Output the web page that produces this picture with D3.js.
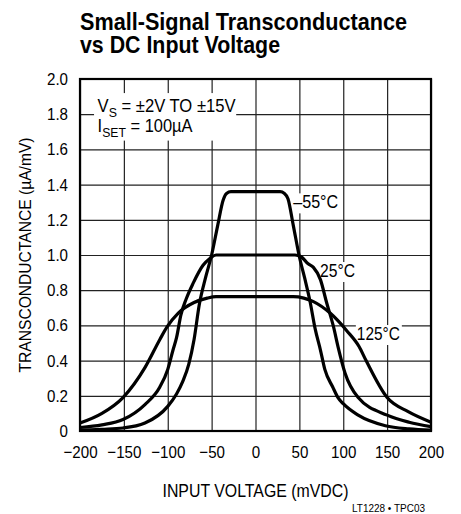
<!DOCTYPE html>
<html>
<head>
<meta charset="utf-8">
<script src="https://cdn.jsdelivr.net/npm/d3@7"></script>
<style>
  body { margin: 0; background: #fff; }
  svg { display: block; }
  text { font-family: "Liberation Sans Narrow", "Arial Narrow", "Liberation Sans", sans-serif; fill: #000; }
</style>
</head>
<body>
<div id="chart"></div>
<script>
// input voltage (mV) -> transconductance (uA/mV)
const vM55 = [-200, -175, -151, -126, -100, -90, -83, -76, -70, -64, -57, -50, -43, -37, -33, -28, 28, 33, 37, 43, 50, 56, 62, 68, 74, 79, 88, 94, 100, 117, 148, 175, 200]
const gM55 = [0.005, 0.01, 0.017, 0.045, 0.14, 0.21, 0.28, 0.38, 0.52, 0.72, 0.87, 1.0, 1.17, 1.31, 1.35, 1.36, 1.36, 1.35, 1.32, 1.17, 0.99, 0.87, 0.74, 0.58, 0.46, 0.35, 0.25, 0.19, 0.155, 0.09, 0.03, 0.012, 0.005]

const v25 = [-200, -175, -151, -126, -109, -100, -94, -90, -85, -79, -71, -60, -52, -45, 45, 52, 60, 66, 74, 81, 89, 94, 102, 117, 150, 175, 200]
const g25 = [0.02, 0.035, 0.065, 0.15, 0.25, 0.35, 0.46, 0.53, 0.66, 0.75, 0.84, 0.94, 0.98, 1.0, 1.0, 0.99, 0.95, 0.93, 0.86, 0.73, 0.59, 0.48, 0.33, 0.19, 0.09, 0.05, 0.025]

const v125 = [-200, -175, -151, -126, -109, -101, -88, -70, -55, -45, 43, 55, 66, 85, 104, 118, 126, 150, 174, 200]
const g125 = [0.045, 0.10, 0.19, 0.36, 0.52, 0.59, 0.67, 0.73, 0.755, 0.763, 0.763, 0.755, 0.735, 0.67, 0.57, 0.48, 0.40, 0.19, 0.11, 0.05]

const seriesNames = ["–55°C", "25°C", "125°C"]
const xTicks = [-200, -150, -100, -50, 0, 50, 100, 150, 200]
const yTicks = [0, 0.2, 0.4, 0.6, 0.8, 1.0, 1.2, 1.4, 1.6, 1.8, 2.0]

const series = [
    { name: seriesNames[0], v: vM55, g: gM55 },
    { name: seriesNames[1], v: v25, g: g25 },
    { name: seriesNames[2], v: v125, g: g125 }
]

const W = 461, H = 514
const MARGIN = { LEFT: 80, RIGHT: 30, TOP: 79, BOTTOM: 83 }
const WIDTH = W - MARGIN.LEFT - MARGIN.RIGHT
const HEIGHT = H - MARGIN.TOP - MARGIN.BOTTOM

// no condensed font installed, so squeeze the glyphs instead
function fit(sel, w) {
    sel.attr("textLength", w).attr("lengthAdjust", "spacingAndGlyphs")
}
function squeeze(sel, f) {
    sel.each(function () {
        const L = this.getComputedTextLength()
        d3.select(this).attr("textLength", L * f).attr("lengthAdjust", "spacingAndGlyphs")
    })
}

const svg = d3.select("#chart").append("svg")
    .attr("width", W)
    .attr("height", H)

// title (one text, two lines)
const title = svg.append("text")
    .attr("font-size", "24px").attr("font-weight", "bold")
title.append("tspan").attr("x", 80).attr("y", 30)
    .text("Small-Signal Transconductance").call(fit, 327)
title.append("tspan").attr("x", 80).attr("y", 53)
    .text("vs DC Input Voltage").call(fit, 200)

const g = svg.append("g")
    .attr("transform", `translate(${MARGIN.LEFT}, ${MARGIN.TOP})`)

const x = d3.scaleLinear().domain([-200, 200]).range([0, WIDTH])
const y = d3.scaleLinear().domain([0, 2]).range([HEIGHT, 0])

// grid
g.append("g")
    .attr("class", "grid")
    .attr("transform", `translate(0, ${HEIGHT})`)
    .call(d3.axisBottom(x).tickValues(xTicks).tickSize(-HEIGHT).tickFormat(""))
g.append("g")
    .attr("class", "grid")
    .call(d3.axisLeft(y).tickValues(yTicks).tickSize(-WIDTH).tickFormat(""))
g.selectAll(".grid .domain").remove()
g.selectAll(".grid line").attr("stroke", "#222").attr("stroke-width", 1.2)

// tick labels
const xAxis = g.append("g")
    .attr("transform", `translate(0, ${HEIGHT})`)
    .call(d3.axisBottom(x).tickValues(xTicks).tickSize(0).tickPadding(15))
const yAxis = g.append("g")
    .call(d3.axisLeft(y).tickValues(yTicks).tickSize(0).tickPadding(12)
        .tickFormat(d => d === 0 ? "0" : d3.format(".1f")(d)))
xAxis.select(".domain").remove()
yAxis.select(".domain").remove()
g.selectAll(".tick text")
    .attr("font-family", "Liberation Sans Narrow, Arial Narrow, Liberation Sans, sans-serif")
    .attr("font-size", "17px").attr("fill", "#000")
    .call(squeeze, 0.89)

// annotation box
const note = g.append("g")
note.append("rect")
    .attr("x", x(-184)).attr("y", y(1.92))
    .attr("width", x(-22) - x(-184)).attr("height", y(1.65) - y(1.92))
    .attr("fill", "#fff")
const l1 = note.append("text").attr("x", x(-180)).attr("y", y(1.81)).attr("font-size", "17.5px")
l1.append("tspan").text("V")
l1.append("tspan").attr("font-size", "13px").attr("dy", 5).text("S")
l1.append("tspan").attr("dy", -5).text(" = ±2V TO ±15V")
l1.call(fit, 138)
const l2 = note.append("text").attr("x", x(-180)).attr("y", y(1.70)).attr("font-size", "17.5px")
l2.append("tspan").text("I")
l2.append("tspan").attr("font-size", "13px").attr("dy", 5).text("SET")
l2.append("tspan").attr("dy", -5).text(" = 100µA")
l2.call(fit, 95)

// curve labels with white backing over the grid (curves drawn on top)
const labelPos = [[43, 1.265], [73.5, 0.875], [115.5, 0.517]]
const labelWidth = [45, 35, 43]
series.forEach((s, i) => {
    const lg = g.append("g")
    const t = lg.append("text")
        .attr("x", x(labelPos[i][0])).attr("y", y(labelPos[i][1]))
        .attr("font-size", "18px")
        .text(s.name)
        .call(fit, labelWidth[i])
    const bb = t.node().getBBox()
    lg.insert("rect", "text")
        .attr("x", bb.x - 1).attr("y", bb.y + 1)
        .attr("width", bb.width + 3).attr("height", bb.height)
        .attr("fill", "#fff")
})

// curves
const line = d3.line()
    .x(d => x(d[0]))
    .y(d => y(d[1]))
    .curve(d3.curveMonotoneX)

g.selectAll(".curve")
    .data(series)
    .enter().append("path")
    .attr("class", "curve")
    .attr("fill", "none")
    .attr("stroke", "#000")
    .attr("stroke-width", 3.2)
    .attr("stroke-linejoin", "round")
    .attr("d", d => line(d.v.map((v, i) => [v, d.g[i]])))

// frame
g.append("rect")
    .attr("width", WIDTH).attr("height", HEIGHT)
    .attr("fill", "none").attr("stroke", "#000").attr("stroke-width", 2.2)

// axis titles
svg.append("text")
    .attr("transform", `translate(25, ${MARGIN.TOP + HEIGHT / 2}) rotate(-90)`)
    .attr("text-anchor", "middle").attr("dominant-baseline", "central")
    .attr("font-size", "17px")
    .text("TRANSCONDUCTANCE (µA/mV)")
    .call(fit, 235)
svg.append("text")
    .attr("x", MARGIN.LEFT + WIDTH / 2).attr("y", 497)
    .attr("text-anchor", "middle")
    .attr("font-size", "17.5px")
    .text("INPUT VOLTAGE (mVDC)")
    .call(fit, 186)
svg.append("text")
    .attr("x", 425).attr("y", 512)
    .attr("text-anchor", "end")
    .attr("font-family", "Liberation Sans, Arial, sans-serif")
    .attr("font-size", "10.5px")
    .text("LT1228 • TPC03")
    .call(fit, 73)
</script>
</body>
</html>
